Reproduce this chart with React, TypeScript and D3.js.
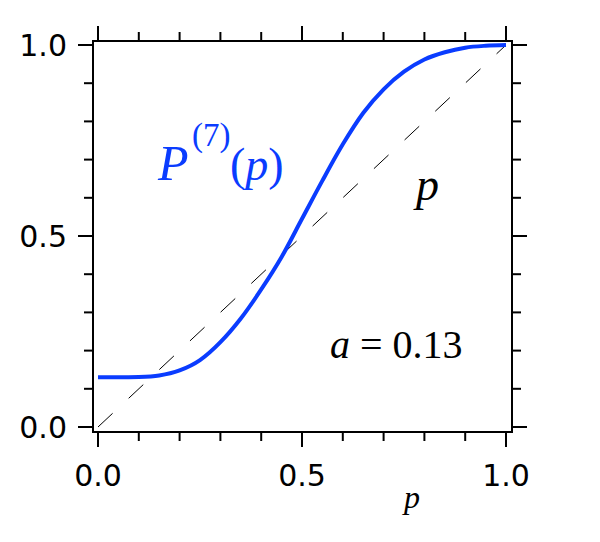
import React from 'react';
import * as d3 from 'd3';

// values
const pValues = [0, 0.05, 0.1, 0.15, 0.2, 0.25, 0.3, 0.35, 0.4, 0.45, 0.5, 0.55, 0.6, 0.65, 0.7, 0.75, 0.8, 0.85, 0.9, 0.95, 1.0];
const pSeven = [0.13, 0.13, 0.131, 0.135, 0.148, 0.175, 0.222, 0.284, 0.36, 0.445, 0.545, 0.645, 0.74, 0.822, 0.884, 0.93, 0.962, 0.981, 0.993, 0.998, 1.0];
const diagonal = [0, 1];
const tickLabels = ['0.0', '0.5', '1.0'];
const labelTicks = [0, 0.5, 1];

const width = 600;
const height = 542;
const frame = { left: 93, right: 512, top: 41, bottom: 432 };
const blue = '#0a3cff';
const majorLen = 15;
const minorLen = 9;
const serif = "'Liberation Serif', 'Times New Roman', Times, serif";

export default function App() {
    const x = d3.scaleLinear().domain([0, 1]).range([98, 506]);
    const y = d3.scaleLinear().domain([0, 1]).range([427, 45]);

    const curve = d3.line<number>()
        .x((d, i) => x(pValues[i]))
        .y(d => y(d))
        .curve(d3.curveMonotoneX);

    const diag = d3.line<number>()
        .x(d => x(d))
        .y(d => y(d));

    const ticks = x.ticks(10);
    const isMajor = (t: number) => Math.abs(t * 2 - Math.round(t * 2)) < 1e-9;

    return (
        <svg width={width} height={height} style={{ position: 'absolute', left: 0, top: 0 }}>
            <rect x={0} y={0} width={width} height={height} fill="white" />

            {/* mirrored ticks on all four sides */}
            <g stroke="black" strokeWidth={2}>
                {ticks.map(t => {
                    const len = isMajor(t) ? majorLen : minorLen;
                    return (
                        <g key={'t' + t}>
                            <line x1={x(t)} x2={x(t)} y1={frame.bottom} y2={frame.bottom + len} />
                            <line x1={x(t)} x2={x(t)} y1={frame.top} y2={frame.top - len} />
                            <line y1={y(t)} y2={y(t)} x1={frame.left} x2={frame.left - len} />
                            <line y1={y(t)} y2={y(t)} x1={frame.right} x2={frame.right + len} />
                        </g>
                    );
                })}
                <rect x={frame.left} y={frame.top} width={frame.right - frame.left}
                    height={frame.bottom - frame.top} fill="none" />
            </g>

            <g style={{ fontFamily: "'DejaVu Sans', sans-serif" }} fontSize={30} fill="black">
                {labelTicks.map((t, i) => (
                    <text key={'xl' + t} x={x(t)} y={486} textAnchor="middle">{tickLabels[i]}</text>
                ))}
                {labelTicks.map((t, i) => (
                    <text key={'yl' + t} x={67} y={y(t)} dy="0.36em" textAnchor="end">{tickLabels[i]}</text>
                ))}
            </g>

            <path d={diag(diagonal) || ''} fill="none" stroke="black" strokeWidth={1}
                strokeDasharray="20 22" />
            <path d={curve(pSeven) || ''} fill="none" stroke={blue} strokeWidth={4} />

            <g style={{ fontFamily: serif }}>
                <text x={404} y={508} fontSize={32} fontStyle="italic">p</text>
                <text x={416} y={200} fontSize={46} fontStyle="italic">p</text>
                <text x={330} y={358} fontSize={40}>
                    <tspan fontStyle="italic">a</tspan> = 0.13
                </text>
                <text fill={blue}>
                    <tspan x={158} y={180} fontSize={50} fontStyle="italic">P</tspan>
                    <tspan x={192} y={146} fontSize={33}>(7)</tspan>
                    <tspan x={230} y={180} fontSize={46}>(</tspan>
                    <tspan fontSize={46} fontStyle="italic">p</tspan>
                    <tspan fontSize={46}>)</tspan>
                </text>
            </g>
        </svg>
    );
}
